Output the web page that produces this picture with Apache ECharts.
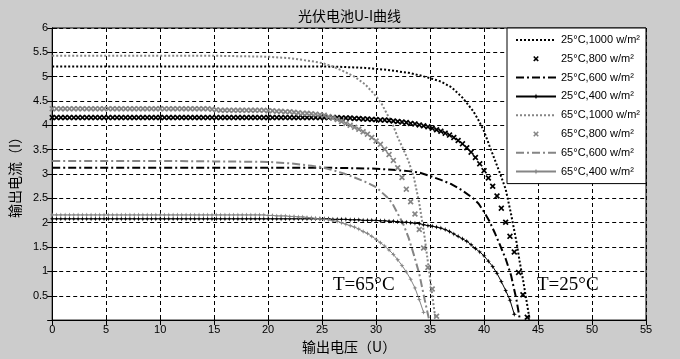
<!DOCTYPE html>
<html><head><meta charset="utf-8">
<script src="https://cdn.jsdelivr.net/npm/echarts@6/dist/echarts.min.js"></script>
<style>html,body{margin:0;padding:0;background:#cccccc}#c{width:680px;height:359px}</style>
</head><body><div id="c"></div><script>
// ---- data ----
const chartTitle = '光伏电池U-I曲线';
const xAxisName = '输出电压（U）';
const yAxisName = '输出电流（I）';
const seriesNames = ['25°C,1000 w/m²','25°C,800 w/m²','25°C,600 w/m²','25°C,400 w/m²',
                     '65°C,1000 w/m²','65°C,800 w/m²','65°C,600 w/m²','65°C,400 w/m²'];
const annotations = ['T=65°C', 'T=25°C'];

// sampling voltages of the marker curves (V)
const voltGrid = [
  0,0.4,0.8,1.2,1.6,2,2.4,2.8,3.2,3.6,
  4,4.4,4.8,5.2,5.6,6,6.4,6.8,7.2,7.6,
  8,8.4,8.8,9.2,9.6,10,10.4,10.8,11.2,11.6,
  12,12.4,12.8,13.2,13.6,14,14.4,14.8,15.2,15.6,
  16,16.4,16.8,17.2,17.6,18,18.4,18.8,19.2,19.6,
  20,20.4,20.8,21.2,21.6,22,22.4,22.8,23.2,23.6,
  24,24.4,24.8,25.2,25.6,26,26.4,26.8,27.2,27.6,
  28,28.4,28.8,29.2,29.6,30,30.4,30.8,31.2,31.6,
  32,32.4,32.8,33.2,33.6,34,34.4,34.8,35.2,35.6,
  36,36.4,36.8,37.2,37.6,38,38.4,38.8,39.2,39.6,
  40,40.4,40.8,41.2,41.6,42,42.4,42.8,43.2,43.6,
  44
];

// 25°C, 800 W/m2 (x markers)
const amps25_800 = [
  4.16,4.16,4.16,4.16,4.16,4.16,4.16,4.16,4.16,4.16,
  4.16,4.16,4.16,4.16,4.16,4.16,4.16,4.16,4.16,4.16,
  4.16,4.16,4.16,4.16,4.16,4.16,4.16,4.16,4.16,4.16,
  4.16,4.16,4.16,4.16,4.16,4.16,4.16,4.16,4.16,4.16,
  4.16,4.16,4.16,4.16,4.16,4.16,4.16,4.16,4.16,4.16,
  4.16,4.16,4.16,4.16,4.16,4.16,4.16,4.16,4.16,4.16,
  4.16,4.16,4.16,4.16,4.16,4.16,4.16,4.15,4.15,4.15,
  4.14,4.14,4.13,4.13,4.12,4.12,4.11,4.11,4.10,4.09,
  4.08,4.07,4.06,4.04,4.03,4.01,3.99,3.97,3.94,3.91,
  3.88,3.84,3.80,3.75,3.69,3.62,3.54,3.45,3.34,3.21,
  3.07,2.92,2.75,2.55,2.30,2.01,1.72,1.40,0.98,0.52,
  0.06
];
// 25°C, 400 W/m2 (line + markers)
const amps25_400 = [
  2.08,2.08,2.08,2.08,2.08,2.08,2.08,2.08,2.08,2.08,
  2.08,2.08,2.08,2.08,2.08,2.08,2.08,2.08,2.08,2.08,
  2.08,2.08,2.08,2.08,2.08,2.08,2.08,2.08,2.08,2.08,
  2.08,2.08,2.08,2.08,2.08,2.08,2.08,2.08,2.08,2.08,
  2.08,2.08,2.08,2.08,2.08,2.08,2.08,2.08,2.08,2.08,
  2.08,2.08,2.08,2.08,2.08,2.08,2.08,2.08,2.08,2.08,
  2.08,2.08,2.08,2.08,2.08,2.07,2.07,2.07,2.07,2.06,
  2.06,2.06,2.05,2.05,2.05,2.05,2.04,2.04,2.03,2.03,
  2.02,2.01,2.01,2.00,1.99,1.98,1.96,1.94,1.93,1.91,
  1.89,1.86,1.82,1.77,1.72,1.67,1.62,1.55,1.47,1.40,
  1.32,1.21,1.10,0.96,0.79,0.61,0.41,0.12
];
// 65°C, 800 W/m2 (x markers)
const amps65_800 = [
  4.34,4.34,4.34,4.34,4.34,4.34,4.34,4.34,4.34,4.34,
  4.34,4.34,4.34,4.34,4.34,4.34,4.34,4.34,4.34,4.34,
  4.34,4.34,4.34,4.34,4.34,4.34,4.34,4.34,4.34,4.34,
  4.34,4.34,4.34,4.34,4.34,4.34,4.34,4.33,4.32,4.31,
  4.31,4.31,4.31,4.31,4.31,4.31,4.31,4.31,4.31,4.31,
  4.30,4.30,4.29,4.29,4.28,4.28,4.27,4.26,4.25,4.25,
  4.24,4.23,4.22,4.21,4.18,4.15,4.12,4.08,4.04,4.00,
  3.96,3.92,3.87,3.82,3.75,3.68,3.61,3.51,3.40,3.28,
  3.13,2.93,2.69,2.43,2.18,1.86,1.48,1.08,0.64,0.08
];
// 65°C, 400 W/m2 (line + markers)
const amps65_400 = [
  2.16,2.16,2.16,2.16,2.16,2.16,2.16,2.16,2.16,2.16,
  2.16,2.16,2.16,2.16,2.16,2.16,2.16,2.16,2.16,2.16,
  2.16,2.16,2.16,2.16,2.16,2.16,2.16,2.16,2.16,2.16,
  2.16,2.16,2.16,2.16,2.16,2.16,2.16,2.16,2.16,2.16,
  2.16,2.16,2.16,2.16,2.16,2.16,2.16,2.16,2.16,2.16,
  2.15,2.15,2.14,2.14,2.14,2.13,2.13,2.12,2.12,2.11,
  2.10,2.09,2.08,2.07,2.06,2.04,2.03,2.00,1.97,1.94,
  1.91,1.87,1.82,1.78,1.72,1.66,1.59,1.52,1.44,1.35,
  1.24,1.12,0.99,0.84,0.66,0.42,0.16
];

// 25°C, 1000 W/m2 (dotted line)
const volt25_1000 = [0,5,10,15,20,25,27,29,30,31,32,33,34,35,36,37,38,39,39.5,40,40.5,41,41.5,42,42.5,43,43.3,43.6,43.9,44.2];
const amps25_1000 = [5.21,5.21,5.21,5.21,5.21,5.21,5.20,5.18,5.16,5.14,5.11,5.08,5.03,4.97,4.90,4.78,4.57,4.29,4.10,3.88,3.58,3.29,3.00,2.69,2.18,1.61,1.20,0.84,0.44,0.04];
// 25°C, 600 W/m2 (dash-dot line)
const volt25_600 = [0,5,10,15,20,25,28,30,32,33,34,35,36,37,38,39,39.5,40,40.5,41,41.5,42,42.5,43,43.3];
const amps25_600 = [3.13,3.13,3.13,3.13,3.13,3.13,3.12,3.11,3.08,3.06,3.03,2.96,2.88,2.79,2.66,2.50,2.39,2.22,2.03,1.79,1.53,1.26,0.92,0.42,0.03];
// 65°C, 1000 W/m2 (dotted line)
const volt65_1000 = [0,5,10,15,20,22,24,25,26,27,28,29,30,30.5,31,31.5,32,32.5,33,33.5,34,34.5,35,35.3,35.5];
const amps65_1000 = [5.43,5.43,5.43,5.43,5.41,5.38,5.32,5.28,5.21,5.11,5.00,4.84,4.60,4.45,4.24,4.04,3.76,3.52,3.27,2.93,2.40,1.70,0.85,0.35,0.03];
// 65°C, 600 W/m2 (dash-dot line)
const volt65_600 = [0,5,10,15,20,22,24,25,26,27,28,29,30,31,31.5,32,32.5,33,33.5,34,34.5,34.9];
const amps65_600 = [3.27,3.27,3.27,3.26,3.25,3.22,3.17,3.14,3.08,3.01,2.93,2.84,2.73,2.53,2.40,2.19,1.98,1.70,1.34,0.95,0.42,0.02];

const xTicks = {min: 0, max: 55, step: 5};
const yTicks = {min: 0, max: 6, step: 0.5};

// ---- chart ----
function pairs(v, a) { const out = []; for (let i = 0; i < a.length; i++) out.push([v[i], a[i]]); return out; }

const BLACK = '#000000', GREY = '#858585';
const xMark = 'path://M0,2L2,0L5,3L8,0L10,2L7,5L10,8L8,10L5,7L2,10L0,8L3,5Z';
const starMark = 'path://M5,0L6.3,3.7L10,5L6.3,6.3L5,10L3.7,6.3L0,5L3.7,3.7Z';
const DOT = [2, 2], DASHDOT = [8, 3, 2, 3];

function lineOnly(name, data, color, dash) {
  return {name, type: 'line', data, symbol: 'none', silent: true, animation: false,
    lineStyle: {color, width: 2, type: dash}, itemStyle: {color}};
}
function markOnly(name, data, color) {
  return {name, type: 'line', data, symbol: xMark, symbolSize: 6, showSymbol: true, silent: true, animation: false,
    lineStyle: {width: 0, opacity: 0}, itemStyle: {color}};
}
function lineMark(name, data, color) {
  return {name, type: 'line', data, symbol: starMark, symbolSize: 5, showSymbol: true, silent: true, animation: false,
    lineStyle: {color, width: 1}, itemStyle: {color}};
}

const series = [
  lineOnly(seriesNames[0], pairs(volt25_1000, amps25_1000), BLACK, DOT),
  markOnly(seriesNames[1], pairs(voltGrid, amps25_800), BLACK),
  lineOnly(seriesNames[2], pairs(volt25_600, amps25_600), BLACK, DASHDOT),
  lineMark(seriesNames[3], pairs(voltGrid, amps25_400), BLACK),
  lineOnly(seriesNames[4], pairs(volt65_1000, amps65_1000), GREY, DOT),
  markOnly(seriesNames[5], pairs(voltGrid, amps65_800), GREY),
  lineOnly(seriesNames[6], pairs(volt65_600, amps65_600), GREY, DASHDOT),
  lineMark(seriesNames[7], pairs(voltGrid, amps65_400), GREY)
];

const SANS = '"Liberation Sans", Arial, sans-serif';
const CJK = '"Noto Sans CJK SC", "Liberation Sans", sans-serif';
const gridLine = {show: true, lineStyle: {color: '#000', width: 1, type: [4, 3]}};

const chart = echarts.init(document.getElementById('c'), null, {renderer: 'canvas'});
chart.setOption({
  backgroundColor: '#cccccc',
  animation: false,
  title: {text: chartTitle, left: 293, top: 4,
    textStyle: {fontFamily: CJK, fontSize: 14, fontWeight: 'normal', color: '#000'}},
  grid: {left: 51, top: 28, width: 595, height: 294, show: true, backgroundColor: '#ffffff',
    borderColor: '#000', borderWidth: 1},
  legend: {
    orient: 'vertical', left: 507, top: 28,
    backgroundColor: '#ffffff', borderColor: '#000', borderWidth: 1,
    padding: [5, 6, 5, 8],
    itemWidth: 40, itemHeight: 7, itemGap: 4.8,
    selectedMode: false,
    textStyle: {fontFamily: SANS, fontSize: 11, color: '#000', lineHeight: 14},
    data: seriesNames.map((n, i) => (i % 2 === 0 ? {name: n, itemStyle: {opacity: 0}} : {name: n}))
  },
  xAxis: [
    {type: 'value', min: xTicks.min, max: xTicks.max, interval: xTicks.step, position: 'bottom',
      axisLine: {lineStyle: {color: '#000'}},
      axisTick: {inside: true, length: 5, lineStyle: {color: '#000'}},
      axisLabel: {color: '#000', fontFamily: SANS, fontSize: 11, margin: 4},
      splitLine: gridLine,
      name: xAxisName, nameLocation: 'middle', nameGap: 15,
      nameTextStyle: {fontFamily: CJK, fontSize: 14, color: '#000'}},
    {type: 'value', min: xTicks.min, max: xTicks.max, interval: xTicks.step, position: 'top',
      axisLine: {lineStyle: {color: '#000'}},
      axisTick: {inside: true, length: 5, lineStyle: {color: '#000'}},
      axisLabel: {show: false}, splitLine: {show: false}}
  ],
  yAxis: [
    {type: 'value', min: yTicks.min, max: yTicks.max, interval: yTicks.step, position: 'left',
      axisLine: {show: true, lineStyle: {color: '#000'}},
      axisTick: {show: true, inside: true, length: 5, lineStyle: {color: '#000'}},
      axisLabel: {color: '#000', fontFamily: SANS, fontSize: 11, margin: 4, showMinLabel: false},
      splitLine: gridLine,
      name: yAxisName, nameLocation: 'middle', nameGap: 24,
      nameTextStyle: {fontFamily: CJK, fontSize: 14, color: '#000'}},
    {type: 'value', min: yTicks.min, max: yTicks.max, interval: yTicks.step, position: 'right',
      axisLine: {show: true, lineStyle: {color: '#000'}},
      axisTick: {show: true, inside: true, length: 5, lineStyle: {color: '#000'}},
      axisLabel: {show: false}, splitLine: {show: false}}
  ],
  graphic: [
    {type: 'text', left: 333, top: 276, silent: true,
      style: {text: annotations[0], font: '19px "Liberation Serif", "Times New Roman", serif', fill: '#000'}},
    {type: 'text', left: 537, top: 276, silent: true,
      style: {text: annotations[1], font: '19px "Liberation Serif", "Times New Roman", serif', fill: '#000'}}
  ],
  series
});
</script></body></html>
